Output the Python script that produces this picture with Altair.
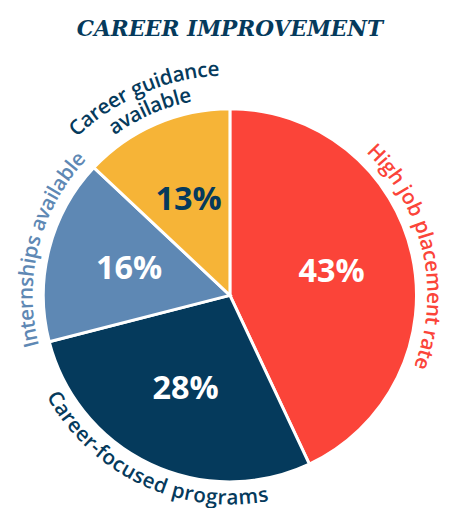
import math
import altair as alt
import pandas as pd

# ---- data ----
categories = ["High job placement rate", "Career-focused programs",
              "Internships available", "Career guidance available"]
percent = [43, 28, 16, 13]
label_lines = [["High job placement rate"], ["Career-focused programs"],
               ["Internships available"], ["Career guidance", "available"]]
chart_title = "CAREER IMPROVEMENT"

# ---- styles ----
RED, NAVY, BLUE, YELLOW = "#FB4439", "#053A5C", "#5E88B4", "#F6B437"
slice_colors = [RED, NAVY, BLUE, YELLOW]
label_colors = [RED, NAVY, BLUE, NAVY]
R = 190            # pie radius (px)
LABEL_R = 207      # radius of curved label centre line
LINE_GAP = 23
LABEL_FS = 21

# approximate advance widths (em) for Open Sans SemiBold
CW = {'a': .556, 'b': .613, 'c': .476, 'd': .613, 'e': .561, 'f': .339, 'g': .548,
      'h': .614, 'i': .253, 'j': .253, 'k': .53, 'l': .253, 'm': .930, 'n': .614,
      'o': .604, 'p': .613, 'r': .408, 's': .477, 't': .353, 'u': .614, 'v': .501,
      'y': .5, 'H': .725, 'C': .63, 'I': .266, '-': .322, ' ': .26}


def char_w(c):
    return CW.get(c, .56) * 1.04 * LABEL_FS


rows = []
start = 0.0
for cat, p, lines in zip(categories, percent, label_lines):
    mid = (start + p / 2) * 3.6
    start += p
    bottom = 100 < mid < 260
    n = len(lines)
    for li, line in enumerate(lines):
        r = LABEL_R + (n - 1 - li) * LINE_GAP if not bottom else LABEL_R + li * LINE_GAP
        total = sum(char_w(c) for c in line)
        s = -total / 2
        for c in line:
            w = char_w(c)
            sc = s + w / 2
            s += w
            if c == " ":
                continue
            d = math.degrees(sc / r)
            if bottom:
                a = mid - d
                rot = a - 180
            else:
                a = mid + d
                rot = a
            rows.append({"ch": c, "ang": a % 360, "rad": r, "rot": rot % 360, "cat": cat})

chars_df = pd.DataFrame(rows)
pie_df = pd.DataFrame({"cat": categories, "pct": percent, "order": list(range(len(categories)))})

base = alt.Chart(pie_df).encode(
    theta=alt.Theta("pct:Q", stack=True),
    order=alt.Order("order:Q"),
)
arcs = base.mark_arc(outerRadius=R, stroke="white", strokeWidth=3).encode(
    color=alt.Color("cat:N", scale=alt.Scale(domain=categories, range=slice_colors), legend=None)
)
pcts = base.transform_calculate(lab="datum.pct + '%'").mark_text(
    radius=106, font="Open Sans", fontSize=33, fontWeight="bold"
).encode(
    text="lab:N",
    color=alt.condition(alt.datum.cat == "Career guidance available", alt.value(NAVY), alt.value("white")),
)
curved = alt.Chart(chars_df).mark_text(
    font="Open Sans", fontSize=LABEL_FS, fontWeight=600, baseline="middle", align="center"
).encode(
    theta=alt.Theta("ang:Q", stack=False, scale=alt.Scale(domain=[0, 360], range=[0, 2 * math.pi])),
    radius=alt.Radius("rad:Q", scale=alt.Scale(type="linear", domain=[0, 300], range=[0, 300], zero=True)),
    angle=alt.Angle("rot:Q", scale=None),
    text="ch:N",
    color=alt.Color("cat:N", scale=alt.Scale(domain=categories, range=label_colors), legend=None),
)

chart = alt.layer(arcs, pcts, curved).resolve_scale(
    theta="independent", radius="independent", color="independent"
).properties(
    width=430, height=424,
    autosize=alt.AutoSizeParams(type="none"),
    padding={"left": 11, "top": 76, "right": 2, "bottom": 0},
    title=alt.Title(chart_title, font="DejaVu Serif", fontSize=22, fontStyle="italic",
                    fontWeight="bold", color=NAVY, anchor="middle", offset=18),
).configure_view(stroke=None)

chart.save("out.html", embed_options={"renderer": "svg", "actions": False})
